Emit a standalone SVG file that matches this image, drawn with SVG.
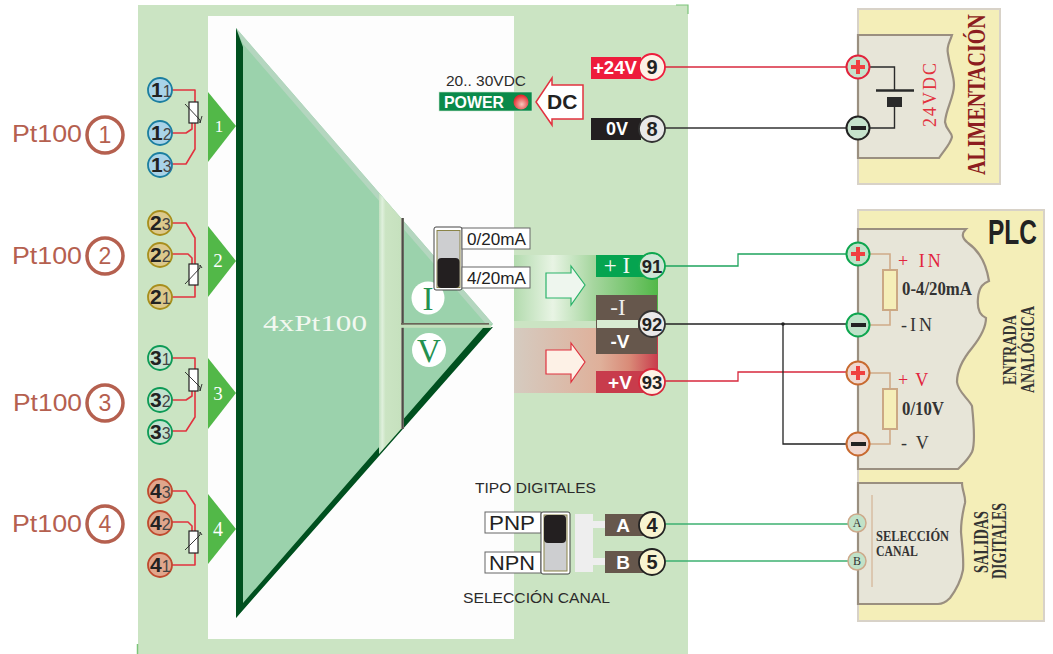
<svg xmlns="http://www.w3.org/2000/svg" width="1053" height="654" viewBox="0 0 1053 654">
<style>
text{font-family:"Liberation Sans",Arial,sans-serif}
.se{font-family:"Liberation Serif","Times New Roman",serif}
.w{fill:none;stroke-linejoin:round}
.rw{fill:none;stroke:#e2323f;stroke-width:1.6;stroke-linejoin:round}
.res{fill:#fff;stroke:#222;stroke-width:1.2}
.sl{fill:none;stroke:#222;stroke-width:.9}
.pt{font-size:24px;fill:#b5604f}
.big{fill:none;stroke:#b5604f;stroke-width:3.5}
.bign{font-size:23px;fill:#b5604f;text-anchor:middle}
.tb{font-size:21px;font-weight:bold;fill:#222}
.ts{font-size:16px;fill:#444}
.tri{fill:#52b848}
.trin{font-size:17px;fill:#fff;text-anchor:middle}
.lab{font-size:19px;font-weight:bold;fill:#fff;text-anchor:middle}
.num{font-size:20px;font-weight:bold;fill:#222;text-anchor:middle}
.box{fill:#fff;stroke:#666;stroke-width:1}
.inner{fill:#e7e5d8;stroke:#9a8f80;stroke-width:2.2}
.tan{fill:none;stroke:#d0aa88;stroke-width:1.6}
.rb{fill:#f5eeb8;stroke:#cba884;stroke-width:2}
.plus{fill:#f04040}
.minus{fill:#222}
.ser{font-weight:bold;fill:#333}
</style>
<defs>
<linearGradient id="gb" x1="0" x2="1" y1="0" y2="0"><stop offset="0" stop-color="#b3dbae"/><stop offset=".27" stop-color="#e8f4e4"/><stop offset=".55" stop-color="#a6d69f"/><stop offset="1" stop-color="#52b848"/></linearGradient>
<linearGradient id="rb" x1="0" x2="1" y1="0" y2="0"><stop offset="0" stop-color="#d5cbc0"/><stop offset=".6" stop-color="#dfb09a"/><stop offset=".8" stop-color="#d98b78"/><stop offset="1" stop-color="#c83c4c"/></linearGradient>
<linearGradient id="vd" x1="0" x2="1" y1="0" y2="0"><stop offset="0" stop-color="#b0aca0"/><stop offset=".6" stop-color="#3a3a36"/><stop offset="1" stop-color="#8a8a80"/></linearGradient>
<linearGradient id="st" x1="0" x2="1" y1="0" y2="0"><stop offset="0" stop-color="#c2e0c0"/><stop offset=".15" stop-color="#dff0dc"/><stop offset=".3" stop-color="#cbe4c3"/><stop offset="1" stop-color="#c6e1be"/></linearGradient>
<radialGradient id="led" cx=".55" cy=".65" r=".6"><stop offset="0" stop-color="#f6c8bc"/><stop offset="1" stop-color="#e4262c"/></radialGradient>
</defs>

<g id="panel">
<rect x="138" y="5" width="550" height="649" fill="#cbe4c3"/>
<rect x="208" y="16" width="306" height="623" fill="#fdfdfd"/>
<path d="M676 5H688V14" fill="none" stroke="#7cc47a" stroke-width="1.2"/>
<path d="M137.500 644V654" fill="none" stroke="#7cc47a" stroke-width="1.500"/>
</g>

<g id="amplifier">
<path d="M236 28L493 324L236 618Z" fill="#9bd2ac"/>
<path d="M236 28L493 324L486 324L243 44Z" fill="#b4d6bf"/>
<path d="M236 618L493 327L483 328L243 603L243 47L236 28Z" fill="#00501f"/>
<path d="M379 193L401 218L401 429L379 454Z" fill="url(#st)"/>
<rect x="401" y="218" width="3" height="211" fill="url(#vd)"/>
<rect x="401" y="323" width="88" height="1.800" fill="#6b6458"/>
<rect x="401" y="324.800" width="90" height="3" fill="#c3dfbb"/>
<text class="se" x="263" y="331" font-size="23" fill="#f2f8f0" textLength="104" lengthAdjust="spacingAndGlyphs">4xPt100</text>
<circle cx="428" cy="298" r="16.500" fill="#fff"/>
<text class="se" x="428" y="310" font-size="33" fill="#24914f" text-anchor="middle">I</text>
<circle cx="429" cy="350" r="17" fill="#fff"/>
<text class="se" x="429" y="362" font-size="33" fill="#24914f" text-anchor="middle">V</text>
</g>

<g id="pt100-1">
<text class="pt" x="12" y="142" textLength="70" lengthAdjust="spacingAndGlyphs">Pt100</text>
<circle class="big" cx="105" cy="135" r="18"/><text class="bign" x="105" y="143">1</text>
<path class="rw" d="M172 90H195V102M195 123V149L186 164H172M172 133H186L192 129V123"/>
<rect class="res" x="189" y="102" width="9" height="21"/>
<path class="sl" d="M185 104L200 120V123L202 116"/>
<circle cx="160" cy="90" r="12" fill="#a9d3e8" stroke="#1b7ea0" stroke-width="1.800"/><text x="151" y="97"><tspan class="tb">1</tspan><tspan class="ts">1</tspan></text>
<circle cx="160" cy="133" r="12" fill="#a9d3e8" stroke="#1b7ea0" stroke-width="1.800"/><text x="151" y="140"><tspan class="tb">1</tspan><tspan class="ts">2</tspan></text>
<circle cx="160" cy="165" r="12" fill="#a9d3e8" stroke="#1b7ea0" stroke-width="1.800"/><text x="151" y="172"><tspan class="tb">1</tspan><tspan class="ts">3</tspan></text>
<path class="tri" d="M208 92L236 126L208 162Z"/><text class="se trin" x="219" y="132">1</text>
</g>

<g id="pt100-2">
<text class="pt" x="12" y="264" textLength="70" lengthAdjust="spacingAndGlyphs">Pt100</text>
<circle class="big" cx="105" cy="256" r="18"/><text class="bign" x="105" y="264">2</text>
<path class="rw" d="M172 223H186L195 238V264M172 254H188L192 258V264M172 297H195V285"/>
<rect class="res" x="189" y="264" width="9" height="21"/>
<path class="sl" d="M185 284L200 268V265L202 268"/>
<circle cx="160" cy="223" r="12" fill="#dcc98c" stroke="#a88e1c" stroke-width="1.800"/><text x="150" y="230"><tspan class="tb">2</tspan><tspan class="ts">3</tspan></text>
<circle cx="160" cy="255" r="12" fill="#dcc98c" stroke="#a88e1c" stroke-width="1.800"/><text x="150" y="262"><tspan class="tb">2</tspan><tspan class="ts">2</tspan></text>
<circle cx="160" cy="297" r="12" fill="#dcc98c" stroke="#a88e1c" stroke-width="1.800"/><text x="150" y="304"><tspan class="tb">2</tspan><tspan class="ts">1</tspan></text>
<path class="tri" d="M208 226L236 261L208 297Z"/><text class="se trin" x="218" y="267" style="font-size:19px">2</text>
</g>

<g id="pt100-3">
<text class="pt" x="13" y="411" textLength="69" lengthAdjust="spacingAndGlyphs">Pt100</text>
<circle class="big" cx="105" cy="403" r="18"/><text class="bign" x="105" y="411">3</text>
<path class="rw" d="M172 358H195V369M195 391V417L186 431H172M172 400H186L192 396V391"/>
<rect class="res" x="189" y="369" width="9" height="22"/>
<path class="sl" d="M185 372L200 387V391L202 384"/>
<circle cx="160" cy="358" r="12" fill="#c3e3cf" stroke="#0d9a56" stroke-width="1.800"/><text x="150" y="365"><tspan class="tb">3</tspan><tspan class="ts">1</tspan></text>
<circle cx="160" cy="400" r="12" fill="#c3e3cf" stroke="#0d9a56" stroke-width="1.800"/><text x="150" y="407"><tspan class="tb">3</tspan><tspan class="ts">2</tspan></text>
<circle cx="160" cy="432" r="12" fill="#c3e3cf" stroke="#0d9a56" stroke-width="1.800"/><text x="150" y="439"><tspan class="tb">3</tspan><tspan class="ts">3</tspan></text>
<path class="tri" d="M208 358L236 393L208 429Z"/><text class="se trin" x="218" y="400" style="font-size:19px">3</text>
</g>

<g id="pt100-4">
<text class="pt" x="12" y="532" textLength="70" lengthAdjust="spacingAndGlyphs">Pt100</text>
<circle class="big" cx="105" cy="524" r="18"/><text class="bign" x="105" y="532">4</text>
<path class="rw" d="M172 491H186L195 505V531M172 522H188L192 526V531M172 565H195V553"/>
<rect class="res" x="189" y="531" width="9" height="22"/>
<path class="sl" d="M185 550L200 535V532L202 535"/>
<circle cx="160" cy="491" r="12" fill="#e0a68c" stroke="#bf4a2e" stroke-width="1.800"/><text x="150" y="498"><tspan class="tb">4</tspan><tspan class="ts">3</tspan></text>
<circle cx="160" cy="523" r="12" fill="#e0a68c" stroke="#bf4a2e" stroke-width="1.800"/><text x="150" y="530"><tspan class="tb">4</tspan><tspan class="ts">2</tspan></text>
<circle cx="160" cy="565" r="12" fill="#e0a68c" stroke="#bf4a2e" stroke-width="1.800"/><text x="150" y="572"><tspan class="tb">4</tspan><tspan class="ts">1</tspan></text>
<path class="tri" d="M208 494L236 529L208 564Z"/><text class="se trin" x="218" y="536" style="font-size:20px">4</text>
</g>

<g id="power">
<text x="446" y="86" font-size="15" fill="#2b2b2b" textLength="80" lengthAdjust="spacingAndGlyphs">20.. 30VDC</text>
<rect x="439" y="92" width="93" height="19" fill="#0a8a4a" stroke="#cfe6cf" stroke-width=".6"/>
<text x="444" y="108" font-size="16.500" font-weight="bold" fill="#fff" textLength="60" lengthAdjust="spacingAndGlyphs">POWER</text>
<circle cx="521" cy="102" r="7.500" fill="url(#led)"/>
<path d="M536 102L552 78V85H583V119H552V125Z" fill="#fff" stroke="#e2323f" stroke-width="1.500"/>
<text x="547" y="109" font-size="21" font-weight="bold" fill="#222">DC</text>
</g>

<g id="outputs">
<rect x="514" y="255" width="144" height="66" fill="url(#gb)"/>
<rect x="514" y="328" width="144" height="65" fill="url(#rb)"/>
<path d="M546 273H571V266L585 285L571 305V298H546Z" fill="#eef6ee" stroke="#2bb36a" stroke-width="1.200"/>
<path d="M546 350H571V343L585 362L571 382V374H546Z" fill="#fdf1e6" stroke="#e0323f" stroke-width="1.200"/>
<rect x="596" y="255" width="62" height="22" fill="#05a450"/>
<text class="se" x="617" y="273" font-size="23" fill="#f4f8f0" text-anchor="middle">+ I</text>
<rect x="596" y="295" width="61" height="59" fill="#66574c"/>
<rect x="597" y="320" width="41" height="8" fill="#d8ecd2"/>
<text class="se" x="618" y="315" font-size="23" fill="#eee" text-anchor="middle">-I</text>
<text class="lab" x="620" y="348">-V</text>
<rect x="596" y="371" width="61" height="22" fill="#c83c4c"/>
<text class="lab" x="620" y="389">+V</text>
</g>

<g id="range-switch">
<rect x="434" y="227" width="28" height="63" rx="2" fill="#fff" stroke="#444" stroke-width="1"/>
<rect x="437" y="230.500" width="23" height="57" fill="#cdced0" stroke="#8a8448" stroke-width="1"/>
<rect x="437.500" y="258" width="22" height="30" rx="4" fill="#231f20"/>
<rect class="box" x="462" y="228" width="68" height="21"/><text x="467" y="244.500" font-size="15.600" fill="#222" textLength="59" lengthAdjust="spacingAndGlyphs">0/20mA</text>
<rect class="box" x="462" y="267" width="68" height="21"/><text x="467" y="283.500" font-size="15.600" fill="#222" textLength="59" lengthAdjust="spacingAndGlyphs">4/20mA</text>
</g>

<g id="digital">
<text x="475" y="493" font-size="15" fill="#2b2b2b" textLength="121" lengthAdjust="spacingAndGlyphs">TIPO DIGITALES</text>
<text x="463" y="603" font-size="15" fill="#2b2b2b" textLength="147" lengthAdjust="spacingAndGlyphs">SELECCIÓN CANAL</text>
<rect class="box" x="485" y="512" width="56" height="21"/><text x="489" y="530" font-size="20" fill="#222" textLength="46" lengthAdjust="spacingAndGlyphs">PNP</text>
<rect class="box" x="485" y="552" width="56" height="21"/><text x="489" y="570" font-size="20" fill="#222" textLength="46" lengthAdjust="spacingAndGlyphs">NPN</text>
<rect x="541" y="512" width="29" height="62" rx="2" fill="#fff" stroke="#444" stroke-width="1"/>
<rect x="544" y="515" width="23" height="56" fill="#cdced0" stroke="#8a8448" stroke-width="1"/>
<rect x="544" y="515" width="22" height="28" rx="4" fill="#231f20"/>
<path d="M575 514H593V521H605V528H593V558H605V565H593V572H575Z" fill="#eeeeee"/>
<rect x="605" y="514" width="45" height="22" fill="#66574c"/>
<rect x="605" y="551" width="45" height="22" fill="#66574c"/>
<text class="lab" x="623" y="532">A</text>
<text class="lab" x="623" y="569">B</text>
</g>

<g id="block-24v">
<rect x="591" y="57" width="50" height="22" fill="#ee1c3c"/>
<text x="593" y="74" font-size="18" font-weight="bold" fill="#fff" textLength="44" lengthAdjust="spacingAndGlyphs">+24V</text>
<rect x="591" y="118" width="50" height="22" fill="#231f20"/>
<text x="606" y="135" font-size="18" font-weight="bold" fill="#fff">0V</text>
</g>

<g id="connectors" fill="none" stroke-width="1.300">
<path d="M665 67H846" stroke="#d8283c"/>
<path d="M665 128H846" stroke="#333"/>
<path d="M665 266H738V254H846" stroke="#1fa45e"/>
<path d="M665 324H846" stroke="#222"/>
<path d="M665 381H738V372H846" stroke="#d8283c"/>
<path d="M783 324V444H846" stroke="#222"/>
<circle cx="783" cy="324" r="1.800" fill="#222" stroke="none"/>
<path d="M665 524H848" stroke="#3db070"/>
<path d="M665 561H848" stroke="#3db070"/>
</g>

<g id="terminals" stroke-width="1.800">
<circle cx="652" cy="67" r="13" fill="#fdf1e6" stroke="#ee1c3c"/><text class="num" x="652" y="74">9</text>
<circle cx="652" cy="129" r="13" fill="#e9e9e9" stroke="#333"/><text class="num" x="652" y="136">8</text>
<circle cx="652" cy="266" r="13" fill="#cfe6d6" stroke="#0ea64f"/><text class="num" x="652" y="273" style="font-size:18.500px">91</text>
<circle cx="652" cy="324" r="13" fill="#e9e9e9" stroke="#333"/><text class="num" x="652" y="331" style="font-size:18.500px">92</text>
<circle cx="652" cy="382" r="13" fill="#fdf1e6" stroke="#d8283c"/><text class="num" x="652" y="389" style="font-size:18.500px">93</text>
<circle cx="652" cy="525" r="13" fill="#f8f4d0" stroke="#222"/><text class="num" x="652" y="532">4</text>
<circle cx="652" cy="562" r="13" fill="#f8f4d0" stroke="#222"/><text class="num" x="652" y="569">5</text>
</g>

<g id="alimentacion">
<rect x="858" y="9" width="142" height="175" fill="#f4eeb8" stroke="#d8d2c8" stroke-width="2"/>
<path class="inner" d="M858 35H952C950 42 946 46 948 54C950 68 954 75 954 85C954 98 946 108 945 122C946 130 952 132 952 137C950 145 944 150 939 158H858Z"/>
<path d="M870 67H894.500V90M894.500 107V128H870" fill="none" stroke="#2a2a2a" stroke-width="1.400"/>
<path d="M876 90.500H914" stroke="#2a2a2a" stroke-width="2.500"/>
<rect x="887" y="97" width="15" height="10" fill="#2a2a2a"/>
<text class="se" transform="translate(936 127) rotate(-90)" font-size="18" fill="#e2323f" textLength="64">24VDC</text>
<text class="se" transform="translate(985 175) rotate(-90) scale(.8 1)" font-size="25" font-weight="bold" fill="#8c1d20">ALIMENTACIÓN</text>
<circle cx="858" cy="67" r="11.500" fill="#c6e3cc" stroke="#e2233c" stroke-width="2"/>
<path class="plus" d="M856 60H860V65H865V69H860V74H856V69H851V65H856Z"/>
<circle cx="858" cy="128" r="11.500" fill="#c6e3cc" stroke="#222" stroke-width="2"/>
<rect class="minus" x="851" y="126" width="15" height="4"/>
</g>

<g id="plc">
<rect x="858" y="210" width="186" height="411" fill="#f4eeb8" stroke="#d8d2c8" stroke-width="2"/>
<text transform="translate(988 244) scale(.7 1)" font-size="35" font-weight="bold" fill="#222">PLC</text>
<text class="se ser" transform="translate(1016 385) rotate(-90)" font-size="18" textLength="70" lengthAdjust="spacingAndGlyphs">ENTRADA</text>
<text class="se ser" transform="translate(1034 393) rotate(-90)" font-size="18" textLength="87" lengthAdjust="spacingAndGlyphs">ANALÓGICA</text>
<text class="se ser" transform="translate(988 573) rotate(-90)" font-size="20" textLength="62" lengthAdjust="spacingAndGlyphs">SALIDAS</text>
<text class="se ser" transform="translate(1006 579) rotate(-90)" font-size="20" textLength="76" lengthAdjust="spacingAndGlyphs">DIGITALES</text>
</g>

<g id="entrada-analogica">
<path class="inner" d="M858 229H966C961 234 962 238 968 243C978 250 986 262 989 281C984 283 979 286 978 298C977 308 979 315 986 318C986 328 980 338 972 348C962 360 957 372 957 382C958 392 968 398 972 406C974 425 975 445 972 452C968 460 962 465 958 469H858Z"/>
<path class="tan" d="M870 254H890V270M890 310V325H870M870 373H890V389M890 429V444H870"/>
<rect class="rb" x="883" y="270" width="14" height="40"/>
<rect class="rb" x="883" y="389" width="14" height="40"/>
<text class="se" x="898" y="267" font-size="18" fill="#e2233c" letter-spacing="3">+ IN</text>
<text class="se ser" x="902" y="295" font-size="18" textLength="70" lengthAdjust="spacingAndGlyphs">0-4/20mA</text>
<text class="se" x="901" y="331" font-size="18" fill="#333" letter-spacing="3">-IN</text>
<text class="se" x="898" y="386" font-size="18" fill="#e2233c" letter-spacing="1.500">+ V</text>
<text class="se ser" x="902" y="415" font-size="18" textLength="42" lengthAdjust="spacingAndGlyphs">0/10V</text>
<text class="se" x="901" y="449" font-size="18" fill="#333" xml:space="preserve">-  V</text>
<circle cx="858" cy="254" r="11.500" fill="#bfe2c8" stroke="#0ea64f" stroke-width="2"/>
<path class="plus" d="M856 247H860V252H865V256H860V261H856V256H851V252H856Z"/>
<circle cx="858" cy="325" r="11.500" fill="#bfe2c8" stroke="#0ea64f" stroke-width="2"/>
<rect class="minus" x="851" y="323" width="15" height="4"/>
<circle cx="858" cy="373" r="11.500" fill="#efd8d0" stroke="#c86a30" stroke-width="2"/>
<path class="plus" d="M856 366H860V371H865V375H860V380H856V375H851V371H856Z"/>
<circle cx="858" cy="444" r="11.500" fill="#efd8d0" stroke="#c86a30" stroke-width="2"/>
<rect class="minus" x="851" y="442" width="15" height="4"/>
</g>

<g id="salidas-digitales">
<path class="inner" d="M858 483H962C962 490 966 497 965 503C962 515 961 522 961 532C962 545 964 558 963 570C961 580 956 590 950 598C946 602 943 604 938 604H858Z"/>
<path d="M872 495V587" stroke="#d0aa88" stroke-width="1" fill="none"/>
<text class="se ser" x="876" y="541" font-size="15" textLength="73" lengthAdjust="spacingAndGlyphs">SELECCIÓN</text>
<text class="se ser" x="876" y="556" font-size="15" textLength="42" lengthAdjust="spacingAndGlyphs">CANAL</text>
<circle cx="857" cy="523" r="9" fill="#c1e2c8" stroke="#cda98a" stroke-width="1.500"/>
<text class="se" x="857" y="527" font-size="12" fill="#333" text-anchor="middle">A</text>
<circle cx="857" cy="561" r="9" fill="#c1e2c8" stroke="#cda98a" stroke-width="1.500"/>
<text class="se" x="857" y="565" font-size="12" fill="#333" text-anchor="middle">B</text>
</g>
</svg>
